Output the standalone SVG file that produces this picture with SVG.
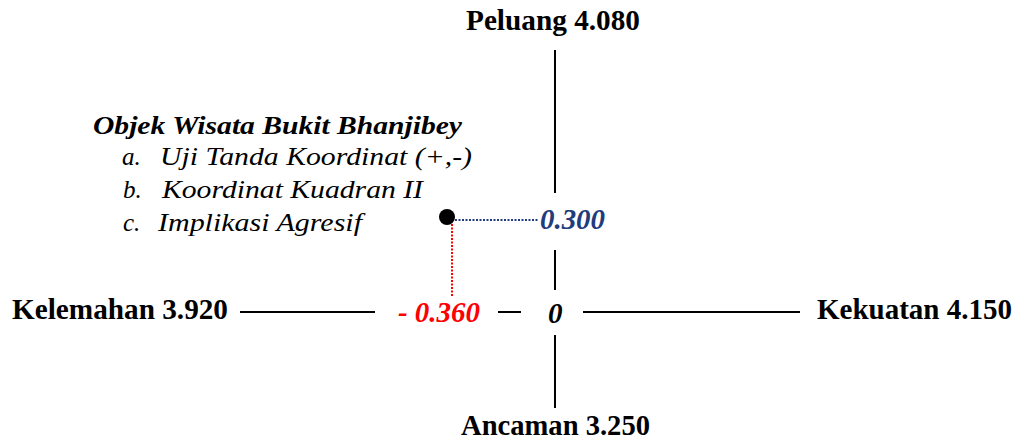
<svg xmlns="http://www.w3.org/2000/svg" width="1016" height="441" viewBox="0 0 1016 441">
<style>
.axis{stroke:#000;stroke-width:2;fill:none}
.lbl{font-family:"Liberation Serif","Times New Roman",serif;font-weight:bold;font-size:29px;fill:#000}
.num{font-family:"Liberation Serif","Times New Roman",serif;font-weight:bold;font-style:italic;font-size:29px}
.list{font-family:"Liberation Serif","Times New Roman",serif;font-style:italic;font-size:25px;fill:#000}
.title{font-family:"Liberation Serif","Times New Roman",serif;font-style:italic;font-weight:bold;font-size:25px;fill:#000}
</style>
<rect width="1016" height="441" fill="#fff"/>
<g id="connectors">
<line class="axis" x1="555" y1="50" x2="555" y2="193"/>
<line class="axis" x1="555" y1="250" x2="555" y2="290"/>
<line class="axis" x1="555" y1="335" x2="555" y2="408"/>
<line class="axis" x1="240" y1="312" x2="375" y2="312"/>
<line class="axis" x1="498" y1="312" x2="521" y2="312"/>
<line class="axis" x1="583" y1="312" x2="800" y2="312"/>
<line x1="455" y1="220" x2="538" y2="220" stroke="#203c7c" stroke-width="2" stroke-dasharray="2 1.5"/>
<line x1="452" y1="224" x2="452" y2="297" stroke="#ff0000" stroke-width="2" stroke-dasharray="2 1.5"/>
</g>
<g id="peluang"><text class="lbl" x="466" y="30" textLength="174" lengthAdjust="spacingAndGlyphs">Peluang 4.080</text></g>
<g id="ancaman"><text class="lbl" x="461" y="435" textLength="189" lengthAdjust="spacingAndGlyphs">Ancaman 3.250</text></g>
<g id="kelemahan"><text class="lbl" x="12" y="319" textLength="216" lengthAdjust="spacingAndGlyphs">Kelemahan 3.920</text></g>
<g id="kekuatan"><text class="lbl" x="817" y="319" textLength="195" lengthAdjust="spacingAndGlyphs">Kekuatan 4.150</text></g>
<g id="origin"><text class="num" x="548" y="323" fill="#000">0</text></g>
<g id="x-value"><text class="num" x="398" y="322" fill="#ff0000" textLength="82" lengthAdjust="spacingAndGlyphs">- 0.360</text></g>
<g id="y-value"><text class="num" x="540" y="229" fill="#203c7c" textLength="65" lengthAdjust="spacingAndGlyphs">0.300</text></g>
<g id="point"><circle cx="447" cy="217" r="8" fill="#000"/></g>
<g id="legend">
<text class="title" x="93" y="134" textLength="369" lengthAdjust="spacingAndGlyphs">Objek Wisata Bukit Bhanjibey</text>
<text class="list" x="122" y="165">a.</text>
<text class="list" x="160" y="165" textLength="312" lengthAdjust="spacingAndGlyphs">Uji Tanda Koordinat (+,-)</text>
<text class="list" x="123" y="198">b.</text>
<text class="list" x="162" y="198" textLength="261" lengthAdjust="spacingAndGlyphs">Koordinat Kuadran II</text>
<text class="list" x="123" y="231">c.</text>
<text class="list" x="158" y="231" textLength="204" lengthAdjust="spacingAndGlyphs">Implikasi Agresif</text>
</g>
</svg>
